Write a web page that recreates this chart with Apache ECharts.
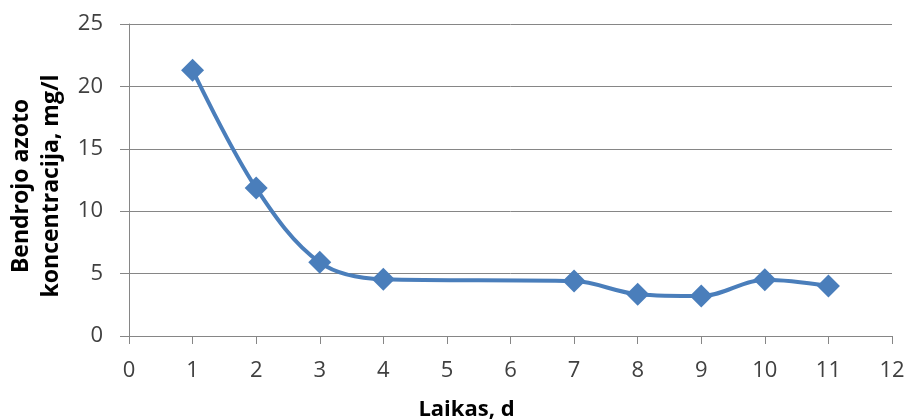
<!DOCTYPE html>
<html>
<head>
<meta charset="utf-8">
<script src="https://cdn.jsdelivr.net/npm/echarts@6/dist/echarts.min.js"></script>
<style>
  html, body { margin: 0; padding: 0; background: #fff; }
  #chart { width: 908px; height: 419px; }
</style>
</head>
<body>
<div id="chart"></div>
<script>
// Total nitrogen concentration over time
const days = [1, 2, 3, 4, 7, 8, 9, 10, 11];
const nitrogen = [21.3, 11.85, 5.9, 4.55, 4.4, 3.35, 3.2, 4.5, 4.0];
const xTicks = [0, 1, 2, 3, 4, 5, 6, 7, 8, 9, 10, 11, 12];
const yTicks = [0, 5, 10, 15, 20, 25];

const font = '"Open Sans", "Liberation Sans", sans-serif';
const axisGray = '#868686';
const textGray = '#404040';

const chart = echarts.init(document.getElementById('chart'));
chart.setOption({
  animation: false,
  grid: { left: 129, right: 16, top: 24, bottom: 83, outerBoundsMode: 'none', containLabel: false },
  xAxis: {
    type: 'value',
    min: xTicks[0],
    max: xTicks[xTicks.length - 1],
    interval: 1,
    name: 'Laikas, d',
    nameLocation: 'middle',
    nameGap: 63,
    nameTextStyle: { fontFamily: font, fontSize: 22, fontWeight: 'bold', color: '#000', padding: [0, 88, 0, 0] },
    axisLine: { show: true, lineStyle: { color: axisGray, width: 1 } },
    axisTick: { show: true, inside: false, length: 8, lineStyle: { color: axisGray } },
    axisLabel: { fontFamily: font, fontSize: 22, color: textGray, margin: 24 },
    splitLine: { show: false }
  },
  yAxis: {
    type: 'value',
    min: yTicks[0],
    max: yTicks[yTicks.length - 1],
    interval: 5,
    name: 'Bendrojo azoto\nkoncentracija, mg/l',
    nameLocation: 'middle',
    nameGap: 60,
    nameTextStyle: { fontFamily: font, fontSize: 23, fontWeight: 'bold', color: '#000', lineHeight: 30, padding: [0, 12, 0, 0] },
    axisLine: { show: true, lineStyle: { color: axisGray, width: 1 } },
    axisTick: { show: true, inside: false, length: 9, lineStyle: { color: axisGray } },
    axisLabel: { fontFamily: font, fontSize: 22, color: textGray, margin: 26 },
    splitLine: { show: true, lineStyle: { color: axisGray, width: 1 } }
  },
  series: [{
    type: 'line',
    data: days.map((d, i) => [d, nitrogen[i]]),
    smooth: 0.35,
    symbol: 'diamond',
    symbolSize: 23,
    lineStyle: { color: '#4A7EBB', width: 4 },
    itemStyle: { color: '#4A7EBB' }
  }]
});
</script>
</body>
</html>
